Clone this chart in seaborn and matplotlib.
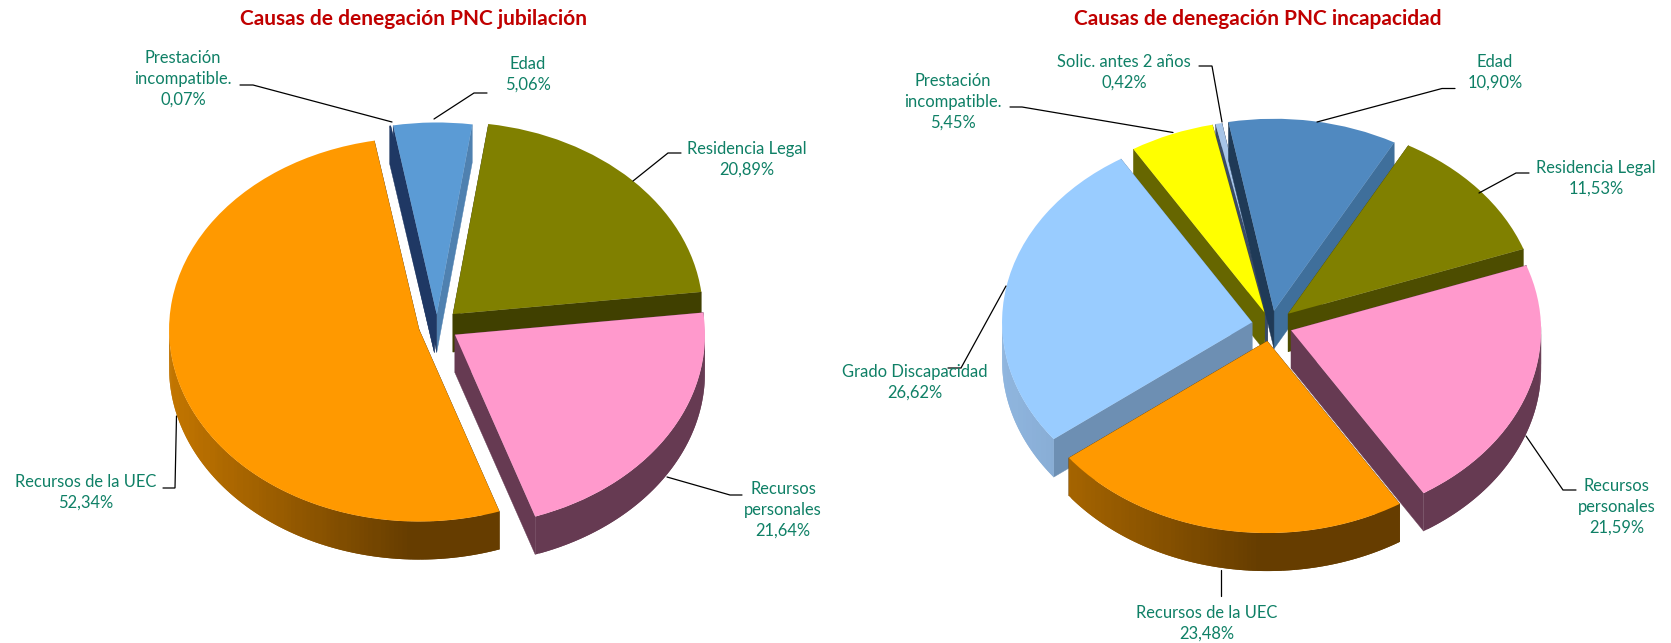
import numpy as np
import seaborn as sns
import matplotlib
matplotlib.use('Agg')
import matplotlib.pyplot as plt
from matplotlib.collections import PolyCollection

W, H = 1671, 643

# datos (%)
cat_jub = ['Edad', 'Residencia Legal', 'Recursos\npersonales', 'Recursos de la UEC', 'Prestación\nincompatible.']
val_jub = [5.06, 20.89, 21.64, 52.34, 0.07]
etq_jub = ['5,06%', '20,89%', '21,64%', '52,34%', '0,07%']

cat_inc = ['Edad', 'Residencia Legal', 'Recursos\npersonales', 'Recursos de la UEC',
           'Grado Discapacidad', 'Prestación\nincompatible.', 'Solic. antes 2 años']
val_inc = [10.90, 11.53, 21.59, 23.48, 26.62, 5.45, 0.42]
etq_inc = ['10,90%', '11,53%', '21,59%', '23,48%', '26,62%', '5,45%', '0,42%']

sns.set_theme(style='white')
plt.rcParams['font.family'] = ['Lato', 'DejaVu Sans']

VERDE = '#0F8066'
ROJO = '#C00000'

# color, cara theta1, cara theta2, pared clara, pared oscura
EST_JUB = [
    ('#5B9BD5', '#4F81B0', '#1F3864', '#4F81B0', '#4F81B0'),
    ('#808000', '#404000', '#404000', '#404000', '#404000'),
    ('#FF99CC', '#663A52', '#663A52', '#663A52', '#663A52'),
    ('#FF9900', '#663D00', '#663D00', '#C27500', '#663D00'),
    ('#1F3864', '#1F3864', '#1F3864', '#1F3864', '#1F3864'),
]
EST_INC = [
    ('#5089C0', '#3F6F9B', '#1F3A57', '#3F6F9B', '#3F6F9B'),
    ('#808000', '#4D4D00', '#4D4D00', '#4D4D00', '#4D4D00'),
    ('#FF99CC', '#663A52', '#663A52', '#663A52', '#663A52'),
    ('#FF9900', '#663D00', '#663D00', '#B56E00', '#663D00'),
    ('#99CCFF', '#6D8FB3', '#6D8FB3', '#8FB5DE', '#6D8FB3'),
    ('#FFFF00', '#666600', '#666600', '#666600', '#666600'),
    ('#A6C4E8', '#3A4C66', '#3A4C66', '#3A4C66', '#3A4C66'),
]


def pie_3d(fig, valores, estilos, explode, orden, inicio, cx, cy, a=250, b=192, fondo=38):
    ax = fig.add_axes([0, 0, 1, 1])
    wedges, _ = ax.pie(valores, explode=explode, colors=[e[0] for e in estilos], startangle=inicio,
                       counterclock=False, wedgeprops={'linewidth': 0})
    ax.set_aspect('auto')
    ax.set_xlim(-cx / a, (W - cx) / a)
    ax.set_ylim(-(H - cy) / b, cy / b)
    d = fondo / b
    for w, est, z in zip(wedges, estilos, orden):
        z = z * 10
        w.set_zorder(z + 3)
        x0, y0 = w.center
        # caras del corte
        for th, col in ((w.theta1, est[1]), (w.theta2, est[2])):
            px, py = x0 + w.r * np.cos(np.radians(th)), y0 + w.r * np.sin(np.radians(th))
            ax.fill([x0, px, px, x0], [y0, py, py - d, y0 - d], color=col, lw=0.3, zorder=z + 1)
        # pared exterior, cada tira pisa a la siguiente para que no queden rayas
        th = np.radians(np.arange(w.theta1, w.theta2, 1.0))
        th = np.append(th, np.radians(w.theta2))
        paleta = sns.blend_palette([est[3], est[4]], 50)
        polys, cols = [], []
        for i in range(len(th) - 1):
            t0, t1 = th[i], th[min(i + 2, len(th) - 1)]
            if np.sin(t0) > 0.02 and np.sin(t1) > 0.02:
                continue
            arco = np.linspace(t0, t1, 4)
            xs, ys = x0 + w.r * np.cos(arco), y0 + w.r * np.sin(arco)
            polys.append(list(zip(xs, ys)) + list(zip(xs[::-1], ys[::-1] - d)))
            f = min(1.0, max(0.0, (np.cos(t0) + 1.0) / 0.95))
            cols.append(paleta[int(f * 49)])
        if polys:
            ax.add_collection(PolyCollection(polys, facecolors=cols, edgecolors='none', linewidths=0, zorder=z + 2))
    ax.axis('off')
    return ax


fig = plt.figure(figsize=(W / 100, H / 100), dpi=100, facecolor='white')

pie_3d(fig, val_jub, EST_JUB, [0.06, 0.089, 0.085, 0.074, 0.06], [1, 2, 4, 3, 0], 100.05, 437, 326)
pie_3d(fig, val_inc, EST_INC, [0.075, 0.09, 0.085, 0.085, 0.077, 0.07, 0.07], [2, 3, 5, 6, 4, 1, 0], 100.5, 1271, 325)

# capa de textos en pixeles
ov = fig.add_axes([0, 0, 1, 1])
ov.set_xlim(0, W)
ov.set_ylim(H, 0)
ov.axis('off')
ov.patch.set_alpha(0)

ov.text(413.5, 19, 'Causas de denegación PNC jubilación', color=ROJO, fontsize=15.0, fontweight='bold', ha='center', va='center')
ov.text(1257.5, 19, 'Causas de denegación PNC incapacidad', color=ROJO, fontsize=15.0, fontweight='bold', ha='center', va='center')

pos_jub = [(527.5, 74), (747, 159), (783, 510), (86, 492), (183, 79)]
pos_inc = [(1495, 72), (1596, 178), (1616.5, 507), (1207, 623), (915, 382), (953, 102), (1124, 72)]

lin_jub = [[(487, 93), (474, 93), (434, 119)],
           [(681, 153), (668, 153), (633, 181)],
           [(742, 495), (730, 495), (667, 477)],
           [(163, 488), (175, 488), (176.5, 416)],
           [(240, 85), (253, 85), (392, 122)]]
lin_inc = [[(1455, 88.5), (1442, 88.5), (1317, 122)],
           [(1529, 173), (1516, 173), (1479, 193)],
           [(1576, 490), (1563, 490), (1526, 436)],
           [(1221, 570), (1221, 596)],
           [(1006, 286), (961, 368), (948, 368)],
           [(1010, 107), (1022, 107), (1173, 132.5)],
           [(1199, 66), (1212, 66), (1222, 122)]]

for cats, etqs, pos, lin in ((cat_jub, etq_jub, pos_jub, lin_jub), (cat_inc, etq_inc, pos_inc, lin_inc)):
    for c, e, p, l in zip(cats, etqs, pos, lin):
        l = np.array(l)
        ov.plot(l[:, 0], l[:, 1], color='black', lw=0.9, solid_joinstyle='miter')
        ov.text(p[0], p[1], c + '\n' + e, color=VERDE, fontsize=11.9, ha='center', va='center', linespacing=1.36)

fig.savefig('out.png', dpi=100)
